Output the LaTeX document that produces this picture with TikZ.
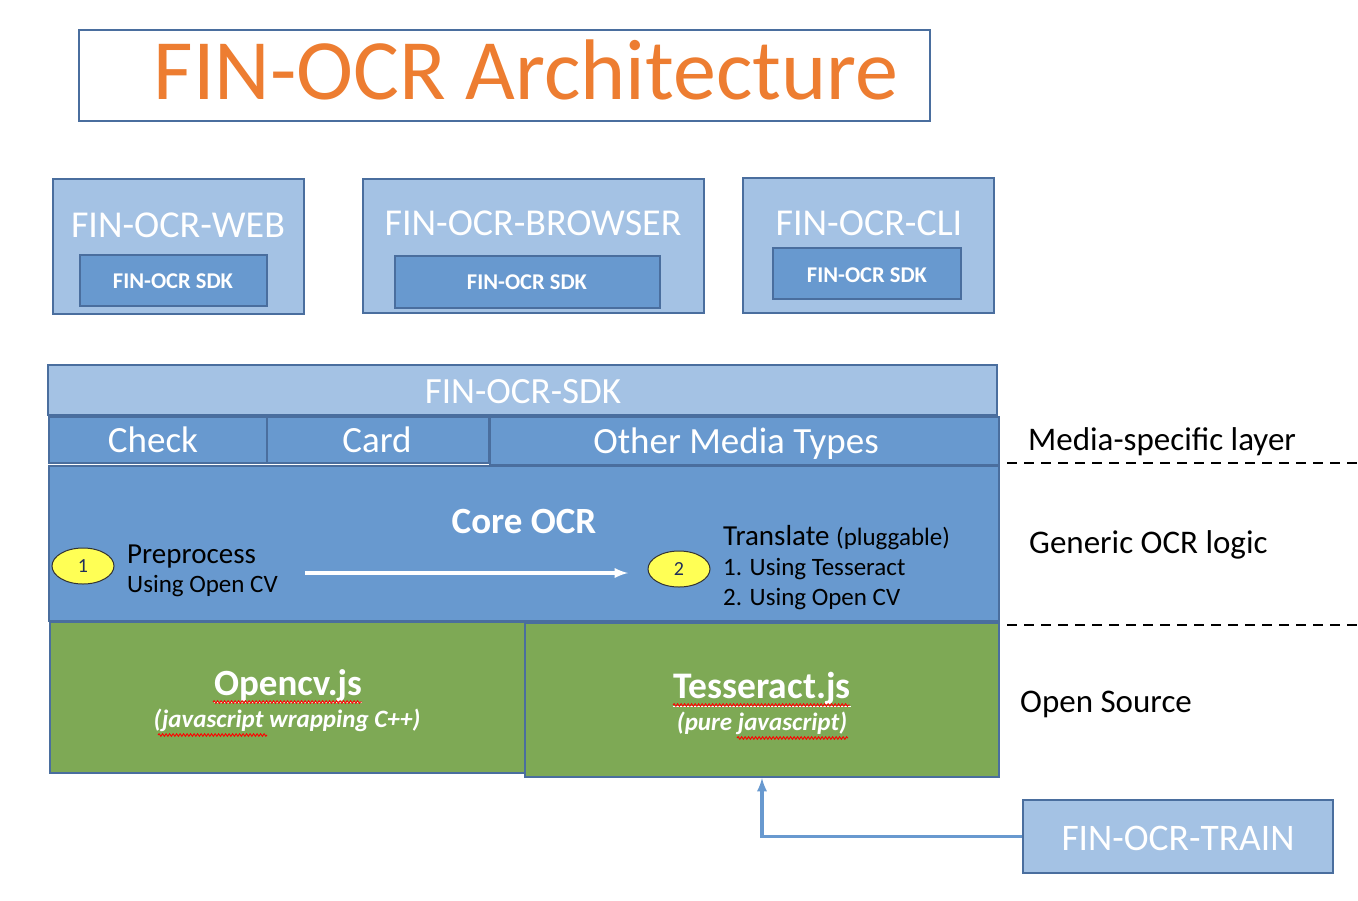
\documentclass[tikz,border=0pt]{standalone}
\usepackage{fontspec}
\setmainfont{Carlito}
\usepackage{tikz}
\usetikzlibrary{positioning,arrows,shapes,decorations.pathmorphing}
\definecolor{edge}{HTML}{4A6E9E}
\definecolor{pale}{HTML}{A4C2E4}
\definecolor{mid}{HTML}{6899CF}
\definecolor{leaf}{HTML}{7EA955}
\definecolor{rust}{HTML}{ED7D31}
\definecolor{sun}{HTML}{FFFF55}
\definecolor{ink}{HTML}{1F2D5A}

\begin{document}
\begin{tikzpicture}[x=1pt,y=-1pt, box/.style={draw=edge,line width=2pt,inner sep=0pt,rectangle},
  wt/.style={text=white,anchor=base,inner sep=0pt},
  bk/.style={text=black,anchor=base west,inner sep=0pt},
  num/.style={ellipse,draw=black!80,fill=sun,line width=1pt,minimum width=62pt,minimum height=36pt,text=ink,font=\fontsize{20}{22}\selectfont},
  squig/.style={red,line width=.9pt,decorate,decoration={snake,amplitude=1.3pt,segment length=3.5pt}}]
\useasboundingbox (0,0) rectangle (1358,900);

\node[box,fill=white,minimum width=851pt,minimum height=91pt] (title) at (504.5,75.5) {};
\node[anchor=base,inner sep=0pt,text=rust,font=\fontsize{86}{90}\selectfont] at (526,99) {FIN-OCR Architecture};

\node[box,fill=pale,minimum width=251pt,minimum height=135pt] (web) at (178.5,246.5) {};
\node[box,fill=pale,minimum width=341pt,minimum height=134pt] (browser) at (533.5,246) {};
\node[box,fill=pale,minimum width=251pt,minimum height=135pt] (cli) at (868.5,245.5) {};
\node[wt,font=\fontsize{38}{42}\selectfont] at (178,237) {FIN-OCR-WEB};
\node[wt,font=\fontsize{38}{42}\selectfont] at (533,235) {FIN-OCR-BROWSER};
\node[wt,font=\fontsize{38}{42}\selectfont] at (869,235) {FIN-OCR-CLI};
\node[box,fill=mid,minimum width=187pt,minimum height=51pt] (websdk) at (173.5,280.5) {};
\node[box,fill=mid,minimum width=265pt,minimum height=52pt] (browsersdk) at (527.5,282) {};
\node[box,fill=mid,minimum width=188pt,minimum height=51pt] (clisdk) at (867,273.5) {};
\node[wt,font=\fontsize{22.5}{25}\selectfont\bfseries] at (173,288) {FIN-OCR SDK};
\node[wt,font=\fontsize{22.5}{25}\selectfont\bfseries] at (527,289) {FIN-OCR SDK};
\node[wt,font=\fontsize{22.5}{25}\selectfont\bfseries] at (867,282) {FIN-OCR SDK};

\node[box,fill=pale,minimum width=949pt,minimum height=50pt] (sdk) at (522.5,390) {};
\node[wt,font=\fontsize{37}{40}\selectfont] at (523,403) {FIN-OCR-SDK};
\node[box,fill=mid,minimum width=218pt,minimum height=46pt] (check) at (158,440) {};
\node[box,fill=mid,minimum width=222pt,minimum height=46pt] (card) at (378,440) {};
\node[box,fill=mid,minimum width=509pt,minimum height=48pt] (other) at (744.5,441) {};
\node[wt,font=\fontsize{37}{40}\selectfont] at (153,452) {Check};
\node[wt,font=\fontsize{37}{40}\selectfont] at (377,452) {Card};
\node[wt,font=\fontsize{37}{40}\selectfont] at (736,453) {Other Media Types};

\node[box,fill=mid,minimum width=950pt,minimum height=155pt] (core) at (524,543.5) {};
\node[wt,font=\fontsize{37}{40}\selectfont\bfseries] at (524,533) {Core OCR};
\node[num] (e1) at (83,566) {1};
\node[num] (e2) at (679,569) {2};
\node[bk,font=\fontsize{29}{32}\selectfont] (prep) at (127,563) {Preprocess};
\node[bk,font=\fontsize{25}{28}\selectfont] at (127,592) {Using Open CV};
\node[bk,font=\fontsize{29}{32}\selectfont] (trans) at (723,545) {Translate {\fontsize{25}{28}\selectfont(pluggable)}};
\node[bk,font=\fontsize{25}{28}\selectfont] at (723,575) {1. Using Tesseract};
\node[bk,font=\fontsize{25}{28}\selectfont] at (723,605) {2. Using Open CV};
\coordinate (a1) at (305,573);
\coordinate (a2) at (628,573);
\draw[-latex,white,line width=3.5pt] (a1) -- (a2);

\node[box,fill=leaf,minimum width=475pt,minimum height=151pt] (ocv) at (287.5,697.5) {};
\node[box,fill=leaf,minimum width=474pt,minimum height=154pt] (tess) at (762,700) {};
\node[wt,font=\fontsize{37}{40}\selectfont\bfseries] at (288,695) {\underline{Opencv.js}};
\node[wt,font=\fontsize{25}{28}\selectfont\bfseries\itshape] at (287,727) {(javascript wrapping C++)};
\node[wt,font=\fontsize{37.5}{40}\selectfont\bfseries] at (762,698) {\underline{Tesseract.js}};
\node[wt,font=\fontsize{25}{28}\selectfont\bfseries\itshape] at (762,730) {(pure javascript)};
\draw[squig] (213,702) -- (362,702);
\draw[squig] (158,735) -- (267,735);
\draw[squig] (673,705) -- (850,705);
\draw[squig] (737,738) -- (848,738);

\coordinate (d1) at (1007,463);
\coordinate (d2) at (1358,463);
\coordinate (d3) at (1007,625);
\coordinate (d4) at (1358,625);
\draw[line width=2.6pt,dash pattern=on 10pt off 7pt] (d1) -- (d2);
\draw[line width=2.6pt,dash pattern=on 10pt off 7pt] (d3) -- (d4);
\node[bk,font=\fontsize{33}{36}\selectfont] at (1028,450) {Media-specific layer};
\node[bk,font=\fontsize{33}{36}\selectfont] at (1029,553) {Generic OCR logic};
\node[bk,font=\fontsize{33}{36}\selectfont] at (1020,712) {Open Source};

\node[box,fill=pale,minimum width=310pt,minimum height=73pt] (train) at (1178,836.5) {};
\node[wt,font=\fontsize{37.5}{40}\selectfont] at (1178,850) {FIN-OCR-TRAIN};
\draw[-latex,mid,line width=3.5pt] (train.west) -| (tess.south);
\end{tikzpicture}
\end{document}
